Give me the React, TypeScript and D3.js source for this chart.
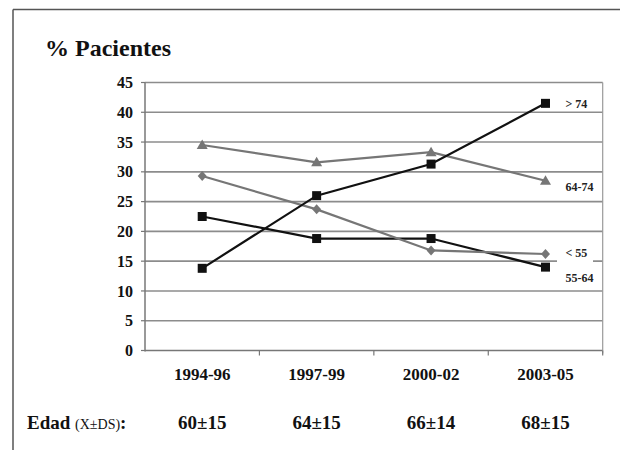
import React from "react";
import * as d3 from "d3";

const categories = ["1994-96", "1997-99", "2000-02", "2003-05"];
const ages = ["60±15", "64±15", "66±14", "68±15"];
const yTicks = [0, 5, 10, 15, 20, 25, 30, 35, 40, 45];

const seriesGt74 = [13.8, 26.0, 31.3, 41.5];
const series6474 = [34.5, 31.6, 33.3, 28.5];
const seriesLt55 = [29.3, 23.7, 16.8, 16.2];
const series5564 = [22.5, 18.8, 18.8, 14.0];

const seriesNames = ["> 74", "64-74", "< 55", "55-64"];

const W = 620;
const H = 450;
const FONT = "Liberation Serif";
const GRAY = "#767676";
const GRID = "#8c8c8c";

export default function App() {
  const x = d3.scaleBand<string>().domain(categories).range([145, 602.7]).padding(0);
  const y = d3.scaleLinear().domain([0, 45]).range([350.5, 82.5]);
  const cx = (c: string) => (x(c) as number) + x.bandwidth() / 2;
  const line = d3
    .line<number>()
    .x((_, i) => cx(categories[i]))
    .y((d) => y(d));

  const series = [
    { name: seriesNames[3], data: series5564, color: "#111", marker: "square" },
    { name: seriesNames[2], data: seriesLt55, color: GRAY, marker: "diamond" },
    { name: seriesNames[1], data: series6474, color: GRAY, marker: "triangle" },
    { name: seriesNames[0], data: seriesGt74, color: "#111", marker: "square" },
  ];

  const marker = (m: string, px: number, py: number, color: string, key: string) => {
    if (m === "square")
      return <rect key={key} x={px - 4.5} y={py - 4.5} width={9} height={9} fill={color} />;
    if (m === "diamond")
      return (
        <path
          key={key}
          d={`M${px},${py - 5}L${px + 4.5},${py}L${px},${py + 5}L${px - 4.5},${py}Z`}
          fill={color}
        />
      );
    return (
      <path
        key={key}
        d={`M${px},${py - 5.5}L${px + 5.5},${py + 4}L${px - 5.5},${py + 4}Z`}
        fill={color}
      />
    );
  };

  const x0 = 145;
  const x1 = 602.7;
  const lastX = cx(categories[3]);

  const labelPos = [
    { name: seriesNames[0], y: y(seriesGt74[3]) },
    { name: seriesNames[1], y: y(series6474[3]) + 6 },
    { name: seriesNames[2], y: y(seriesLt55[3]) - 1 },
    { name: seriesNames[3], y: y(series5564[3]) + 11 },
  ];

  const ts = { fontFamily: FONT };

  return (
    <svg
      width={W}
      height={H}
      style={{ position: "absolute", left: 0, top: 0, background: "#fff", fontFamily: FONT }}
    >
      <rect x={0} y={0} width={W} height={H} fill="#fff" />
      {/* outer frame */}
      <line x1={13} y1={9.5} x2={W} y2={9.5} stroke="#555" strokeWidth={1.5} />
      <line x1={13} y1={9.5} x2={13} y2={H} stroke="#555" strokeWidth={1.5} />

      <text x={45} y={56} fontSize={24} fontWeight="bold" fill="#111" style={ts}>
        % Pacientes
      </text>

      {/* gridlines */}
      {yTicks.map((t) => (
        <g key={t}>
          <line x1={x0} x2={x1} y1={y(t)} y2={y(t)} stroke={t === 0 ? "#777" : GRID} strokeWidth={1.6} />
          <line x1={x0 - 4} x2={x0} y1={y(t)} y2={y(t)} stroke="#777" strokeWidth={1.2} />
          <text
            x={133}
            y={y(t)}
            dy="0.35em"
            textAnchor="end"
            fontSize={16}
            fontWeight="bold"
            fill="#111"
            style={ts}
          >
            {t}
          </text>
        </g>
      ))}
      {/* axes */}
      <line x1={x0} x2={x0} y1={y(45)} y2={y(0) + 1} stroke="#777" strokeWidth={1.5} />
      <line x1={x1} x2={x1} y1={y(45)} y2={y(0) + 3} stroke="#999" strokeWidth={1.2} />
      {categories.map((c) => (
        <line
          key={"t" + c}
          x1={(x(c) as number) + x.bandwidth()}
          x2={(x(c) as number) + x.bandwidth()}
          y1={y(0)}
          y2={y(0) + 5}
          stroke="#777"
          strokeWidth={1.2}
        />
      ))}

      {/* label background for "< 55" */}
      <rect x={557} y={y(15) - 7} width={36} height={14} fill="#fff" />

      {/* series */}
      {series.map((s) => (
        <g key={s.name}>
          <path d={line(s.data) as string} fill="none" stroke={s.color} strokeWidth={2.2} />
          {s.data.map((v, i) => marker(s.marker, cx(categories[i]), y(v), s.color, s.name + i))}
        </g>
      ))}

      {labelPos.map((l) => (
        <text
          key={l.name}
          x={lastX + 20}
          y={l.y}
          dy="0.35em"
          fontSize={12}
          fontWeight="bold"
          fill="#222"
          style={ts}
        >
          {l.name}
        </text>
      ))}

      {/* category labels */}
      {categories.map((c) => (
        <text key={c} x={cx(c)} y={380} textAnchor="middle" fontSize={17} fontWeight="bold" fill="#111" style={ts}>
          {c}
        </text>
      ))}

      {/* age row */}
      <text x={27} y={429} fontSize={19} fill="#111" style={ts}>
        <tspan fontWeight="bold">Edad </tspan>
        <tspan fontSize={14}>(X±DS)</tspan>
        <tspan fontWeight="bold">:</tspan>
      </text>
      {ages.map((a, i) => (
        <text
          key={a + i}
          x={cx(categories[i])}
          y={429}
          textAnchor="middle"
          fontSize={19}
          fontWeight="bold"
          fill="#111"
          style={ts}
        >
          {a}
        </text>
      ))}
    </svg>
  );
}
